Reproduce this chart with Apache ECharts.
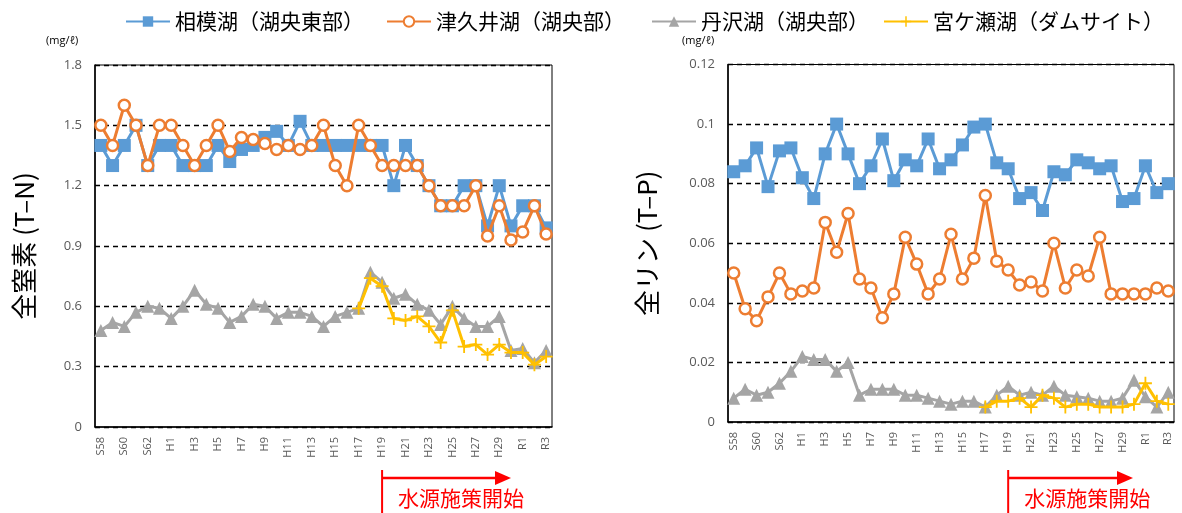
<!DOCTYPE html>
<html>
<head>
<meta charset="utf-8">
<script src="https://cdn.jsdelivr.net/npm/echarts@6/dist/echarts.min.js"></script>
<style>
  html, body { margin: 0; padding: 0; background: #fff; }
  #chart { width: 1182px; height: 513px; }
</style>
</head>
<body>
<div id="chart"></div>
<script>
// 年度（昭和58年度〜令和3年度）
const categories = [
  'S58','S59','S60','S61','S62','S63',
  'H1','H2','H3','H4','H5','H6','H7','H8','H9','H10',
  'H11','H12','H13','H14','H15','H16','H17','H18','H19','H20',
  'H21','H22','H23','H24','H25','H26','H27','H28','H29','H30',
  'R1','R2','R3'
];

const seriesNames = ['相模湖（湖央東部）', '津久井湖（湖央部）', '丹沢湖（湖央部）', '宮ケ瀬湖（ダムサイト）'];

// 全窒素 (mg/ℓ)
const sagamiN = [1.4,1.3,1.4,1.5,1.3,1.4,1.4,1.3,1.3,1.3,1.4,1.32,1.38,1.4,1.44,1.47,1.4,1.52,1.4,1.4,
                 1.4,1.4,1.4,1.4,1.4,1.2,1.4,1.3,1.2,1.1,1.1,1.2,1.2,1.0,1.2,1.0,1.1,1.1,0.99];
const tsukuiN = [1.5,1.4,1.6,1.5,1.3,1.5,1.5,1.4,1.3,1.4,1.5,1.37,1.44,1.43,1.41,1.38,1.4,1.38,1.4,1.5,
                 1.3,1.2,1.5,1.4,1.3,1.3,1.3,1.3,1.2,1.1,1.1,1.1,1.2,0.95,1.1,0.93,0.97,1.1,0.96];
const tanzawaN = [0.48,0.52,0.50,0.57,0.60,0.59,0.54,0.60,0.68,0.61,0.59,0.52,0.55,0.61,0.60,0.54,0.57,0.57,0.55,0.50,
                  0.55,0.57,0.59,0.77,0.72,0.64,0.66,0.61,0.58,0.51,0.60,0.54,0.50,0.50,0.55,0.38,0.39,0.32,0.38];
const miyagaseN = [null,null,null,null,null,null,null,null,null,null,null,null,null,null,null,null,null,null,null,null,
                   null,null,0.59,0.74,0.70,0.54,0.53,0.55,0.50,0.42,0.58,0.40,0.41,0.36,0.41,0.37,0.37,0.31,0.35];

// 全リン (mg/ℓ)
const sagamiP = [0.084,0.086,0.092,0.079,0.091,0.092,0.082,0.075,0.090,0.100,0.090,0.080,0.086,0.095,0.081,0.088,0.086,0.095,0.085,0.088,
                 0.093,0.099,0.100,0.087,0.085,0.075,0.077,0.071,0.084,0.083,0.088,0.087,0.085,0.086,0.074,0.075,0.086,0.077,0.080];
const tsukuiP = [0.050,0.038,0.034,0.042,0.050,0.043,0.044,0.045,0.067,0.057,0.070,0.048,0.045,0.035,0.043,0.062,0.053,0.043,0.048,0.063,
                 0.048,0.055,0.076,0.054,0.051,0.046,0.047,0.044,0.060,0.045,0.051,0.049,0.062,0.043,0.043,0.043,0.043,0.045,0.044];
const tanzawaP = [0.008,0.011,0.009,0.010,0.013,0.017,0.022,0.021,0.021,0.017,0.020,0.009,0.011,0.011,0.011,0.009,0.009,0.008,0.007,0.006,
                  0.007,0.007,0.005,0.009,0.012,0.009,0.010,0.009,0.012,0.009,0.0085,0.008,0.007,0.007,0.008,0.014,0.0085,0.005,0.010];
const miyagaseP = [null,null,null,null,null,null,null,null,null,null,null,null,null,null,null,null,null,null,null,null,
                   null,null,0.005,0.007,0.007,0.008,0.005,0.009,0.008,0.005,0.006,0.006,0.005,0.005,0.005,0.006,0.013,0.007,0.006];

const policyStart = 'H19';   // 水源施策開始年度

const colors = ['#5B9BD5', '#ED7D31', '#A5A5A5', '#FFC000'];
const CJK = '"Noto Sans CJK JP", "Noto Sans", sans-serif';
const LATIN = '"Open Sans", "Noto Sans", sans-serif';
const plusPath = 'path://M0,4.3H10V5.7H0Z M4.3,0H5.7V10H4.3Z';

function styleFor(k) {
  if (k === 0) return { symbol: 'rect', symbolSize: 13, itemStyle: { color: colors[0] } };
  if (k === 1) return { symbol: 'circle', symbolSize: 11, itemStyle: { color: '#fff', borderColor: colors[1], borderWidth: 2.5 } };
  if (k === 2) return { symbol: 'triangle', symbolSize: 13, itemStyle: { color: colors[2] } };
  return { symbol: plusPath, symbolSize: 13, itemStyle: { color: colors[3] } };
}

function makeSeries(k, data, axis) {
  const st = styleFor(k);
  return Object.assign({
    name: seriesNames[k],
    type: 'line',
    xAxisIndex: axis,
    yAxisIndex: axis,
    data: data,
    showAllSymbol: true,
    connectNulls: false,
    lineStyle: { color: colors[k], width: 3 },
    emphasis: { disabled: true },
    animation: false,
    z: 2 + k
  }, st);
}

function xAxisFor(idx) {
  return {
    type: 'category', gridIndex: idx, data: categories, boundaryGap: true,
    axisLine: { lineStyle: { color: '#000', width: 1.5 } },
    axisTick: { show: false },
    axisLabel: { interval: 1, rotate: 90, fontSize: 11, color: '#595959', margin: 10, fontFamily: LATIN }
  };
}

function yAxisFor(idx, max, step, name, gap) {
  return {
    type: 'value', gridIndex: idx, min: 0, max: max, interval: step,
    name: name, nameLocation: 'middle', nameRotate: 90, nameGap: gap,
    nameTextStyle: { fontSize: 26, color: '#000', fontFamily: CJK },
    axisLine: { show: true, lineStyle: { color: '#000', width: 1.5 } },
    axisTick: { show: false },
    axisLabel: { fontSize: 13, color: '#595959', margin: 13, fontFamily: LATIN },
    splitLine: { show: true, lineStyle: { color: '#000', width: 1.3, type: [5, 4] } }
  };
}

// 凡例は1項目ずつ配置
const legendLeft = [120, 381, 646, 878];
const legends = seriesNames.map((n, k) => ({
  top: 6, left: legendLeft[k], itemWidth: 44, itemHeight: 13, itemGap: 0,
  textStyle: { fontSize: 21, color: '#000', fontFamily: CJK },
  data: [n]
}));

const chart = echarts.init(document.getElementById('chart'), null, { renderer: 'canvas' });

chart.setOption({
  animation: false,
  color: colors,
  legend: legends,
  grid: [
    { left: 95, top: 65, width: 457, height: 362, show: true, borderColor: '#000', borderWidth: 1, containLabel: false },
    { left: 728, top: 64.5, width: 446, height: 357.5, show: true, borderColor: '#000', borderWidth: 1, containLabel: false }
  ],
  xAxis: [xAxisFor(0), xAxisFor(1)],
  yAxis: [
    yAxisFor(0, 1.8, 0.3, '全窒素 (T–N)', 58),
    yAxisFor(1, 0.12, 0.02, '全リン (T–P)', 68)
  ],
  series: [
    makeSeries(0, sagamiN, 0), makeSeries(1, tsukuiN, 0), makeSeries(2, tanzawaN, 0), makeSeries(3, miyagaseN, 0),
    makeSeries(0, sagamiP, 1), makeSeries(1, tsukuiP, 1), makeSeries(2, tanzawaP, 1), makeSeries(3, miyagaseP, 1)
  ]
});

// 単位表記と「水源施策開始」の矢印
function policyArrow(axisIdx, arrowEnd) {
  const x = chart.convertToPixel({ xAxisIndex: axisIdx }, policyStart);
  const red = '#FF0000';
  return [
    { type: 'line', shape: { x1: x, y1: 470, x2: x, y2: 513 }, style: { stroke: red, lineWidth: 2 } },
    { type: 'line', shape: { x1: x, y1: 478, x2: arrowEnd - 14, y2: 478 }, style: { stroke: red, lineWidth: 2.5 } },
    { type: 'polygon', shape: { points: [[arrowEnd - 16, 471], [arrowEnd, 478], [arrowEnd - 16, 485]] }, style: { fill: red } },
    { type: 'text', x: x + 16, y: 498, style: { text: '水源施策開始', font: '21px ' + CJK, fill: red, textVerticalAlign: 'middle' } }
  ];
}

chart.setOption({
  graphic: [
    { type: 'text', x: 46, y: 41, style: { text: '(mg/ℓ)', font: '11px ' + LATIN, fill: '#000', textVerticalAlign: 'middle' } },
    { type: 'text', x: 682, y: 41, style: { text: '(mg/ℓ)', font: '11px ' + LATIN, fill: '#000', textVerticalAlign: 'middle' } }
  ].concat(policyArrow(0, 511), policyArrow(1, 1133))
});
</script>
</body>
</html>
